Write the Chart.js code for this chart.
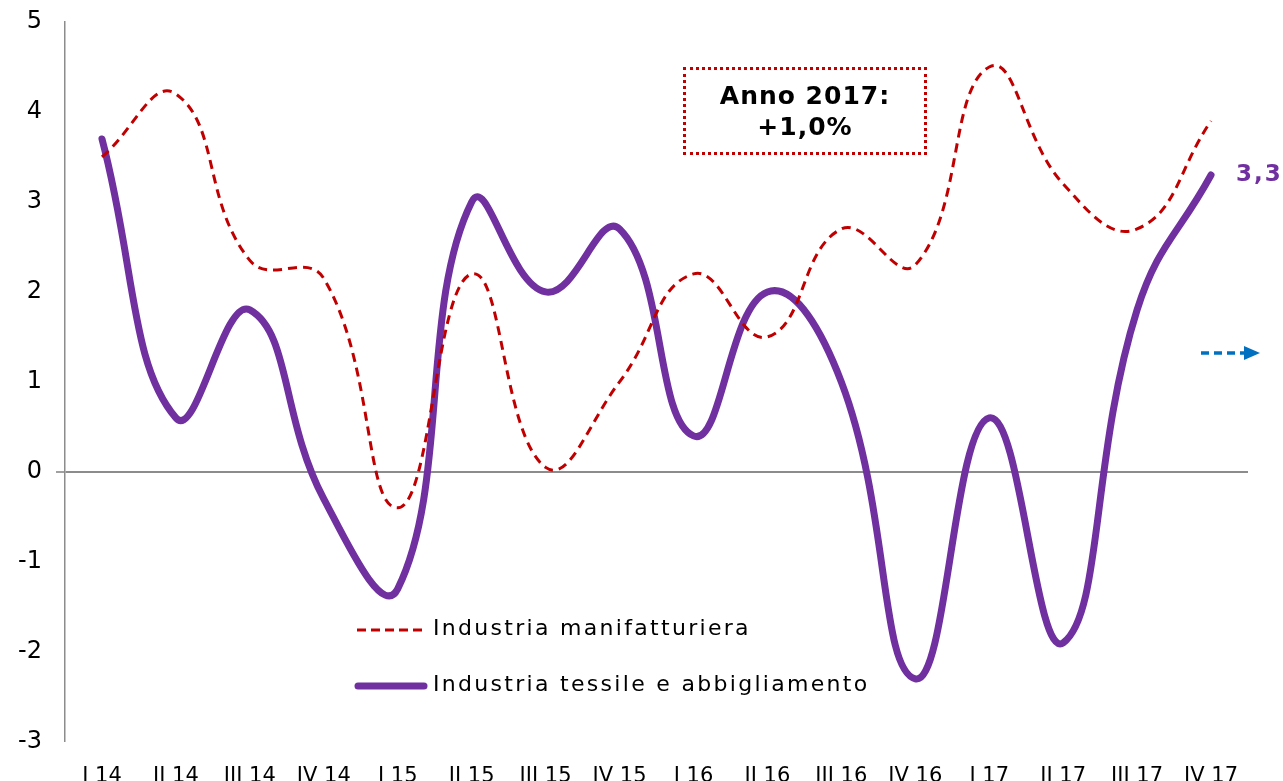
<!DOCTYPE html>
<html>
<head>
<meta charset="utf-8">
<script src="https://cdn.jsdelivr.net/npm/chart.js@4"></script>
<style>
  html, body { margin:0; padding:0; background:#fff; overflow:hidden; width:1283px; height:781px; }
  #wrap { position:relative; width:1283px; height:824px; }
  canvas { position:absolute; left:0; top:0; }
  .legend { position:absolute; font-family:"DejaVu Sans", Verdana, sans-serif; font-size:22px; letter-spacing:2.3px; color:#000; white-space:nowrap; }
  .box { position:absolute; left:683px; top:67px; width:238px; height:72px; border:3px dotted #c00000;
         font-family:"DejaVu Sans", Verdana, sans-serif; font-weight:bold; font-size:25px; letter-spacing:1px; text-align:center; line-height:31px; padding-top:10px; box-sizing:content-box; }
</style>
</head>
<body>
<div id="wrap">
  <canvas id="c" width="1283" height="824"></canvas>
  <svg style="position:absolute;left:0;top:0" width="1283" height="824">
    <line x1="357" y1="630" x2="425" y2="630" stroke="#c00000" stroke-width="3" stroke-dasharray="9,5"/>
    <line x1="358" y1="686" x2="424" y2="686" stroke="#7030a0" stroke-width="7" stroke-linecap="round"/>
    <line x1="1201" y1="353" x2="1244" y2="353" stroke="#0070c0" stroke-width="3.5" stroke-dasharray="8,5"/>
    <polygon points="1244,346 1260,353 1244,360" fill="#0070c0"/>
  </svg>
  <div class="legend" style="left:433px; top:615px;">Industria manifatturiera</div>
  <div class="legend" style="left:433px; top:671px;">Industria tessile e abbigliamento</div>
  <div class="box">Anno 2017:<br>+1,0%</div>
</div>
<script>
const categories = ["I 14","II 14","III 14","IV 14","I 15","II 15","III 15","IV 15","I 16","II 16","III 16","IV 16","I 17","II 17","III 17","IV 17"];
const manifatturiera = [3.5, 4.2, 2.35, 2.15, -0.4, 2.2, 0.05, 1.0, 2.2, 1.5, 2.7, 2.3, 4.5, 3.2, 2.7, 3.9];
const tessile = [3.7, 0.6, 1.8, -0.3, -1.3, 3.0, 2.0, 2.7, 0.4, 2.0, 1.0, -2.3, 0.6, -1.9, 1.8, 3.3];
const lastLabel = "3,3";

const FONT = '"DejaVu Sans", Verdana, sans-serif';

const endLabel = {
  id: 'endLabel',
  afterDatasetsDraw(chart) {
    const meta = chart.getDatasetMeta(1);
    const pt = meta.data[meta.data.length - 1];
    const ctx = chart.ctx;
    ctx.save();
    ctx.font = 'bold 23px ' + FONT;
    try { ctx.letterSpacing = '2px'; } catch (e) {}
    ctx.fillStyle = '#7030a0';
    ctx.textBaseline = 'middle';
    ctx.fillText(lastLabel, pt.x + 25, pt.y);
    ctx.restore();
  }
};

new Chart(document.getElementById('c'), {
  type: 'line',
  data: {
    labels: categories,
    datasets: [
      { label: 'Industria manifatturiera', data: manifatturiera, borderColor: '#c00000', borderWidth: 3,
        borderDash: [9, 6], pointRadius: 0, tension: 0.45, fill: false },
      { label: 'Industria tessile e abbigliamento', data: tessile, borderColor: '#7030a0', borderWidth: 7,
        borderCapStyle: 'round', borderJoinStyle: 'round', pointRadius: 0, tension: 0.45, fill: false }
    ]
  },
  options: {
    responsive: false,
    animation: false,
    layout: { padding: { left: 0, right: 35, top: 22, bottom: 21 } },
    plugins: { legend: { display: false }, tooltip: { enabled: false } },
    scales: {
      x: {
        offset: true,
        grid: { display: false },
        border: { display: false },
        ticks: { color: '#000', font: { family: FONT, size: 21 }, padding: 14, maxRotation: 0, autoSkip: false }
      },
      y: {
        min: -3, max: 5,
        afterFit(s) { s.width = 65; s.paddingTop = 0; s.paddingBottom = 0; },
        ticks: { stepSize: 1, color: '#000', font: { family: FONT, size: 24, lineHeight: 1 }, padding: 14 },
        border: { display: true, color: '#8c8c8c', width: 1.5 },
        grid: {
          color: c => (c.tick && c.tick.value === 0) ? '#8c8c8c' : 'transparent',
          lineWidth: c => (c.tick && c.tick.value === 0) ? 2 : 0,
          tickColor: '#a0a0a0',
          tickLength: 9
        }
      }
    }
  },
  plugins: [endLabel]
});
</script>
</body>
</html>
